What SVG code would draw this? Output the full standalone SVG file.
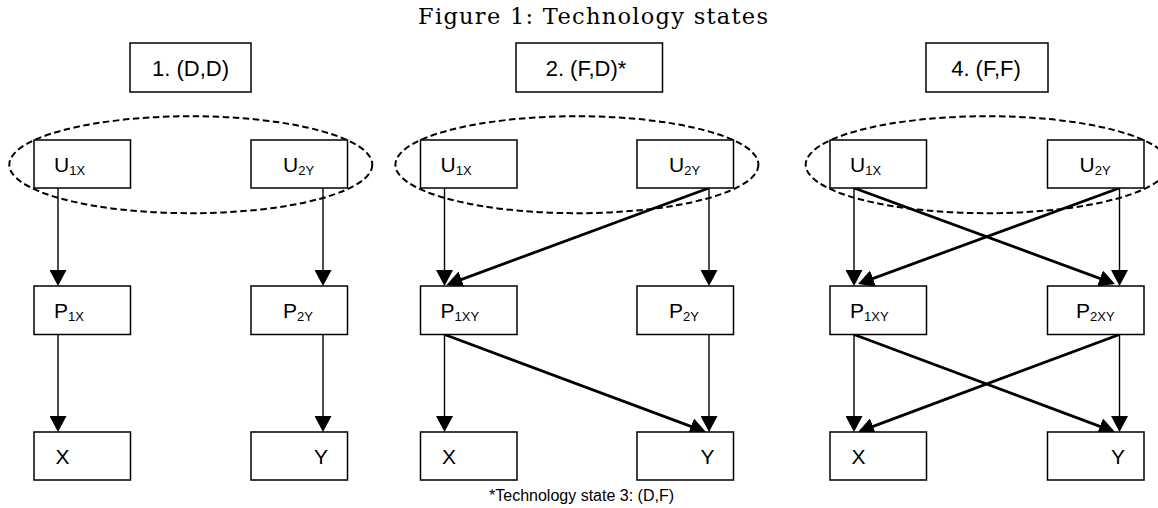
<svg xmlns="http://www.w3.org/2000/svg" width="1158" height="508" viewBox="0 0 1158 508">
<style>
.box{fill:#fff;stroke:#000;stroke-width:1.5}
.ell{fill:none;stroke:#000;stroke-width:2;stroke-dasharray:6.5 3.5}
.lbl{font-family:"Liberation Sans",Arial,sans-serif;font-size:21px;fill:#000}
.sub{font-size:13px}
.hdr{font-family:"Liberation Sans",Arial,sans-serif;font-size:22px;fill:#000;text-anchor:middle}
.v{stroke:#000;stroke-width:1.4;fill:none;marker-end:url(#ah)}
.d{stroke:#000;stroke-width:2.8;fill:none;marker-end:url(#ah)}
</style>
<defs>
<marker id="ah" viewBox="0 0 16 17" refX="12" refY="8.5" markerWidth="16" markerHeight="17" markerUnits="userSpaceOnUse" orient="auto">
<path d="M0,0 L16,8.5 L0,17 Z" fill="#000"/>
</marker>
</defs>
<rect width="1158" height="508" fill="#fff"/>
<text x="418" y="24" font-family="'DejaVu Serif','Liberation Serif',serif" font-size="22.5" textLength="350" fill="#000">Figure 1: Technology states</text>

<g id="groups">
<ellipse class="ell" cx="190.8" cy="164.7" rx="181.5" ry="48.5"/>
<ellipse class="ell" cx="576.9" cy="164.7" rx="181.5" ry="48.5"/>
<ellipse class="ell" cx="987.2" cy="164.7" rx="181.5" ry="48.5"/>
</g>

<g id="connectors">
<line class="v" x1="58" y1="188" x2="58" y2="282"/>
<line class="v" x1="323" y1="188" x2="323" y2="282"/>
<line class="v" x1="58" y1="334.5" x2="58" y2="428"/>
<line class="v" x1="323" y1="334.5" x2="323" y2="428"/>

<line class="v" x1="444.5" y1="188" x2="444.5" y2="282"/>
<line class="v" x1="709" y1="188" x2="709" y2="282"/>
<line class="v" x1="444.5" y1="334.5" x2="444.5" y2="428"/>
<line class="v" x1="709" y1="334.5" x2="709" y2="428"/>
<line class="d" x1="709" y1="188" x2="450.25" y2="283.6"/>
<line class="d" x1="444.5" y1="334.5" x2="702.25" y2="430.6"/>

<line class="v" x1="854" y1="188" x2="854" y2="282"/>
<line class="v" x1="1119.5" y1="188" x2="1119.5" y2="282"/>
<line class="v" x1="854" y1="334.5" x2="854" y2="428"/>
<line class="v" x1="1119.5" y1="334.5" x2="1119.5" y2="428"/>
<line class="d" x1="854" y1="188" x2="1111.25" y2="282.6"/>
<line class="d" x1="1119.5" y1="188" x2="861.75" y2="282.6"/>
<line class="d" x1="854" y1="334.5" x2="1111.25" y2="430.6"/>
<line class="d" x1="1119.5" y1="334.5" x2="861.75" y2="430.6"/>
</g>

<!-- Panel 1 -->
<g id="h1"><rect class="box" x="130" y="43" width="121" height="49"/><text class="hdr" x="190.5" y="76">1. (D,D)</text></g>
<g id="p1-u1x"><rect class="box" x="34" y="140" width="96.5" height="48"/><text class="lbl" x="54" y="172">U<tspan class="sub" dy="3">1X</tspan></text></g>
<g id="p1-u2y"><rect class="box" x="251" y="140" width="96.5" height="48"/><text class="lbl" x="283" y="172">U<tspan class="sub" dy="3">2Y</tspan></text></g>
<g id="p1-p1x"><rect class="box" x="34" y="286" width="96.5" height="48.5"/><text class="lbl" x="54" y="318">P<tspan class="sub" dy="3">1X</tspan></text></g>
<g id="p1-p2y"><rect class="box" x="251" y="286" width="96.5" height="48.5"/><text class="lbl" x="283" y="318">P<tspan class="sub" dy="3">2Y</tspan></text></g>
<g id="p1-x"><rect class="box" x="34" y="432" width="96.5" height="48"/><text class="lbl" x="55.5" y="463.5">X</text></g>
<g id="p1-y"><rect class="box" x="251" y="432" width="96.5" height="48"/><text class="lbl" x="314" y="463.5">Y</text></g>

<!-- Panel 2 -->
<g id="h2"><rect class="box" x="516" y="43" width="146.5" height="49"/><text class="hdr" x="586" y="76">2. (F,D)*</text></g>
<g id="p2-u1x"><rect class="box" x="420.5" y="140" width="96.5" height="48"/><text class="lbl" x="440.5" y="172">U<tspan class="sub" dy="3">1X</tspan></text></g>
<g id="p2-u2y"><rect class="box" x="637" y="140" width="96.5" height="48"/><text class="lbl" x="669" y="172">U<tspan class="sub" dy="3">2Y</tspan></text></g>
<g id="p2-p1xy"><rect class="box" x="420.5" y="286" width="96.5" height="48.5"/><text class="lbl" x="440.5" y="318">P<tspan class="sub" dy="3">1XY</tspan></text></g>
<g id="p2-p2y"><rect class="box" x="637" y="286" width="96.5" height="48.5"/><text class="lbl" x="669" y="318">P<tspan class="sub" dy="3">2Y</tspan></text></g>
<g id="p2-x"><rect class="box" x="420.5" y="432" width="96.5" height="48"/><text class="lbl" x="442" y="463.5">X</text></g>
<g id="p2-y"><rect class="box" x="637" y="432" width="96.5" height="48"/><text class="lbl" x="700.5" y="463.5">Y</text></g>

<!-- Panel 3 -->
<g id="h3"><rect class="box" x="926" y="43" width="122" height="49"/><text class="hdr" x="986" y="76">4. (F,F)</text></g>
<g id="p3-u1x"><rect class="box" x="830" y="140" width="96.5" height="48"/><text class="lbl" x="850" y="172">U<tspan class="sub" dy="3">1X</tspan></text></g>
<g id="p3-u2y"><rect class="box" x="1047.5" y="140" width="96.5" height="48"/><text class="lbl" x="1079.5" y="172">U<tspan class="sub" dy="3">2Y</tspan></text></g>
<g id="p3-p1xy"><rect class="box" x="830" y="286" width="96.5" height="48.5"/><text class="lbl" x="850" y="318">P<tspan class="sub" dy="3">1XY</tspan></text></g>
<g id="p3-p2xy"><rect class="box" x="1047.5" y="286" width="96.5" height="48.5"/><text class="lbl" x="1076" y="318">P<tspan class="sub" dy="3">2XY</tspan></text></g>
<g id="p3-x"><rect class="box" x="830" y="432" width="96.5" height="48"/><text class="lbl" x="851.5" y="463.5">X</text></g>
<g id="p3-y"><rect class="box" x="1047.5" y="432" width="96.5" height="48"/><text class="lbl" x="1111" y="463.5">Y</text></g>

<text x="581.5" y="501" font-family="'Liberation Sans',Arial,sans-serif" font-size="16" text-anchor="middle" fill="#000">*Technology state 3: (D,F)</text>
</svg>
